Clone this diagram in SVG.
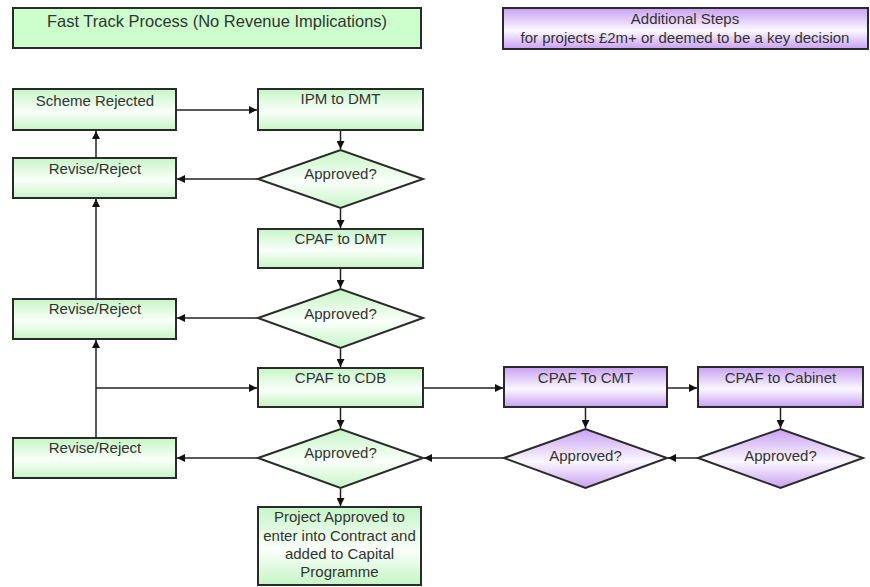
<svg xmlns="http://www.w3.org/2000/svg" width="870" height="587" viewBox="0 0 870 587">
<defs>
<linearGradient id="gG" x1="0" y1="0" x2="0" y2="1">
<stop offset="0" stop-color="#c6f5c6"/>
<stop offset="0.55" stop-color="#fafffa"/>
<stop offset="1" stop-color="#c6f5c6"/>
</linearGradient>
<linearGradient id="gP" x1="0" y1="0" x2="0" y2="1">
<stop offset="0" stop-color="#c8a0f2"/>
<stop offset="0.55" stop-color="#fbf8ff"/>
<stop offset="1" stop-color="#c8a0f2"/>
</linearGradient>
<marker id="ah" viewBox="0 0 10 10" refX="10" refY="5" markerWidth="8" markerHeight="8" markerUnits="userSpaceOnUse" orient="auto">
<path d="M0,0 L10,5 L0,10 z" fill="#111"/>
</marker>
<style>
.g{fill:url(#gG);stroke:#2a2a2a;stroke-width:2}
.p{fill:url(#gP);stroke:#2a2a2a;stroke-width:2}
.t{font-family:"Liberation Sans",Arial,sans-serif;font-size:15px;fill:#333;text-anchor:middle}
.c path{fill:none;stroke:#222;stroke-width:1.5;marker-end:url(#ah)}
</style>
</defs>
<rect x="0" y="0" width="870" height="587" fill="#fff"/>

<g id="title-fast">
<rect class="g" x="13" y="8" width="408" height="40" style="fill:#ccffcc"/>
<text class="t" x="217" y="27" style="font-size:16.5px">Fast Track Process (No Revenue Implications)</text>
</g>
<g id="title-additional">
<rect class="p" x="503" y="8" width="365" height="41"/>
<text class="t" x="685" y="24">Additional Steps</text>
<text class="t" x="685" y="43">for projects £2m+ or deemed to be a key decision</text>
</g>

<g id="scheme-rejected">
<rect class="g" x="13" y="89" width="163" height="41"/>
<text class="t" x="95" y="106">Scheme Rejected</text>
</g>
<g id="ipm-to-dmt">
<rect class="g" x="258" y="89" width="165" height="41"/>
<text class="t" x="340.5" y="104">IPM to DMT</text>
</g>
<g id="approved-1">
<polygon class="g" points="258,179 340.5,150 423,179 340.5,208"/>
<text class="t" x="340.5" y="179">Approved?</text>
</g>
<g id="revise-reject-1">
<rect class="g" x="13" y="158" width="163" height="40"/>
<text class="t" x="95" y="174">Revise/Reject</text>
</g>
<g id="cpaf-to-dmt">
<rect class="g" x="258" y="229" width="165" height="39"/>
<text class="t" x="340.5" y="244">CPAF to DMT</text>
</g>
<g id="approved-2">
<polygon class="g" points="258,318 340.5,289 423,318 340.5,348"/>
<text class="t" x="340.5" y="319">Approved?</text>
</g>
<g id="revise-reject-2">
<rect class="g" x="13" y="299" width="163" height="40"/>
<text class="t" x="95" y="314">Revise/Reject</text>
</g>
<g id="cpaf-to-cdb">
<rect class="g" x="258" y="368" width="165" height="39"/>
<text class="t" x="340.5" y="383">CPAF to CDB</text>
</g>
<g id="approved-3">
<polygon class="g" points="258,458 340.5,429 423,458 340.5,488"/>
<text class="t" x="340.5" y="458">Approved?</text>
</g>
<g id="revise-reject-3">
<rect class="g" x="13" y="438" width="163" height="40"/>
<text class="t" x="95" y="453">Revise/Reject</text>
</g>
<g id="project-approved">
<rect class="g" x="258" y="507" width="163" height="78"/>
<text class="t" x="339.5" y="522">Project Approved to</text>
<text class="t" x="339.5" y="541">enter into Contract and</text>
<text class="t" x="339.5" y="559">added to Capital</text>
<text class="t" x="339.5" y="577">Programme</text>
</g>
<g id="cpaf-to-cmt">
<rect class="p" x="504" y="367" width="163" height="40"/>
<text class="t" x="585.5" y="383">CPAF To CMT</text>
</g>
<g id="cpaf-to-cabinet">
<rect class="p" x="698" y="367" width="165" height="40"/>
<text class="t" x="780.5" y="383">CPAF to Cabinet</text>
</g>
<g id="approved-cmt">
<polygon class="p" points="504,458 585.5,429 667,458 585.5,488"/>
<text class="t" x="585.5" y="461">Approved?</text>
</g>
<g id="approved-cabinet">
<polygon class="p" points="698,458 780.5,429 863,458 780.5,488"/>
<text class="t" x="780.5" y="461">Approved?</text>
</g>

<g id="connectors" class="c">
<path d="M177 110 H257"/>
<path d="M340.5 131 V149"/>
<path d="M257 179 H177"/>
<path d="M96 157 V131"/>
<path d="M340.5 209 V228"/>
<path d="M340.5 269 V288"/>
<path d="M257 318 H177"/>
<path d="M96 298 V199"/>
<path d="M340.5 349 V367"/>
<path d="M96 437 V340"/>
<path d="M96 388 H257"/>
<path d="M340.5 408 V428"/>
<path d="M257 458 H177"/>
<path d="M340.5 489 V506"/>
<path d="M424 388 H503"/>
<path d="M668 388 H697"/>
<path d="M585.5 408 V428"/>
<path d="M780.5 408 V428"/>
<path d="M697 458 H668"/>
<path d="M503 458 H424"/>
</g>
</svg>
